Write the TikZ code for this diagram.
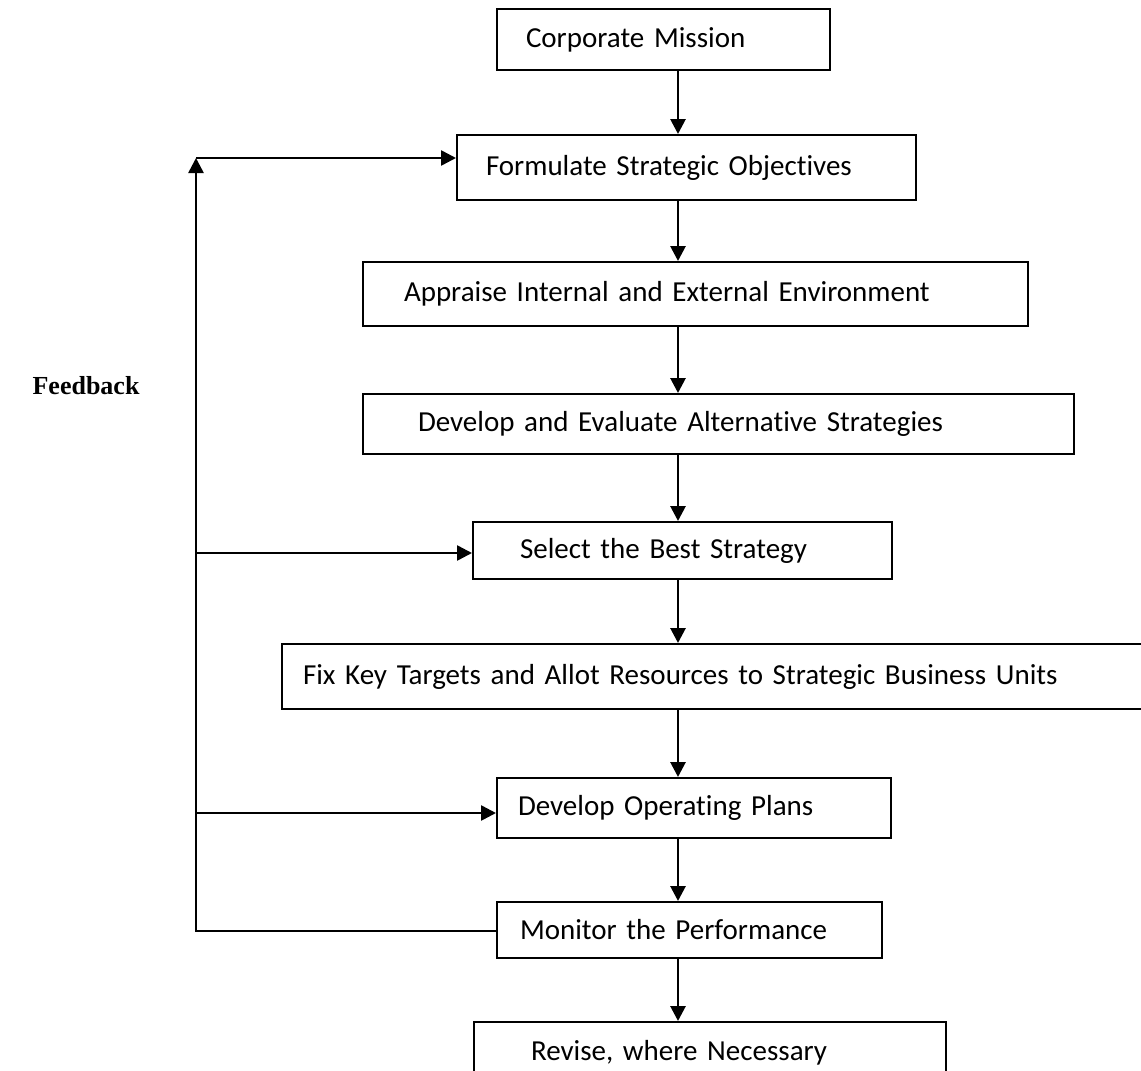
\documentclass[tikz,border=0pt]{standalone}
\usepackage{fontspec}
\setmainfont{Carlito}[Ligatures=NoCommon]
\newfontfamily\fbfont{Liberation Serif}
\usetikzlibrary{arrows.meta}

% step text: Carlito 29pt with a slightly tighter word space
\newcommand\stepfont{\fontsize{29}{34}\selectfont\spaceskip=4.6pt\relax}

\begin{document}
\begin{tikzpicture}[x=1pt, y=-1pt,
  box/.style={draw, line width=2pt, anchor=north west, align=left,
    inner ysep=0pt, font=\stepfont},
  flow/.style={line width=2.8pt, -{Triangle[length=15pt,width=15pt]}},
  fbline/.style={line width=2.6pt},
  fbarrow/.style={fbline, -{Triangle[length=15pt,width=15pt]}}]

\useasboundingbox (0,0) rectangle (1141,1071);
\clip (0,0) rectangle (1141,1071);

% process steps (x, y of top-left corner; width = text width + 2 x padding)
\node[box, minimum height=61pt, text width=275pt, inner xsep=29pt]
  (cm) at (496,8)    {Corporate Mission};
\node[box, minimum height=65pt, text width=401pt, inner xsep=29pt]
  (fo) at (456,134)  {Formulate Strategic Objectives};
\node[box, minimum height=64pt, text width=583pt, inner xsep=41pt]
  (ap) at (362,261)  {Appraise Internal and External Environment};
\node[box, minimum height=60pt, text width=601pt, inner xsep=55pt]
  (de) at (362,393)  {Develop and Evaluate Alternative Strategies};
\node[box, minimum height=57pt, text width=325pt, inner xsep=47pt]
  (se) at (472,521)  {Select the Best Strategy};
\node[box, minimum height=65pt, text width=861pt, inner xsep=21pt]
  (fk) at (281,643)  {Fix Key Targets and Allot Resources to Strategic Business Units};
\node[box, minimum height=60pt, text width=352pt, inner xsep=21pt]
  (dp) at (496,777)  {Develop Operating Plans};
\node[box, minimum height=56pt, text width=339pt, inner xsep=23pt]
  (mo) at (496,901)  {Monitor the Performance};
\node[box, minimum height=62pt, text width=358pt, inner xsep=57pt]
  (rv) at (473,1021) {Revise, where Necessary};

% main flow
\coordinate (ax) at (678,0);
\draw[flow] (cm.south -| ax) -- (fo.north -| ax);
\draw[flow] (fo.south -| ax) -- (ap.north -| ax);
\draw[flow] (ap.south -| ax) -- (de.north -| ax);
\draw[flow] (de.south -| ax) -- (se.north -| ax);
\draw[flow] (se.south -| ax) -- (fk.north -| ax);
\draw[flow] (fk.south -| ax) -- (dp.north -| ax);
\draw[flow] (dp.south -| ax) -- (mo.north -| ax);
\draw[flow] (mo.south -| ax) -- (rv.north -| ax);

% feedback loop
\coordinate (fbtop) at (196,158);
\coordinate (fbsel) at (196,553);
\coordinate (fbdev) at (196,813);
\coordinate (fbmon) at (196,931);
\draw[fbarrow] (fbmon -| mo.west) -- (fbmon) -- (fbtop);
\draw[fbarrow] (fbtop) -- (fbtop -| fo.west);
\draw[fbarrow] (fbsel) -- (fbsel -| se.west);
\draw[fbarrow] (fbdev) -- (fbdev -| dp.west);

\node[font=\fbfont\bfseries\fontsize{26}{30}\selectfont, anchor=east]
  (fb) at (143,386) {Feedback};
\end{tikzpicture}
\end{document}
